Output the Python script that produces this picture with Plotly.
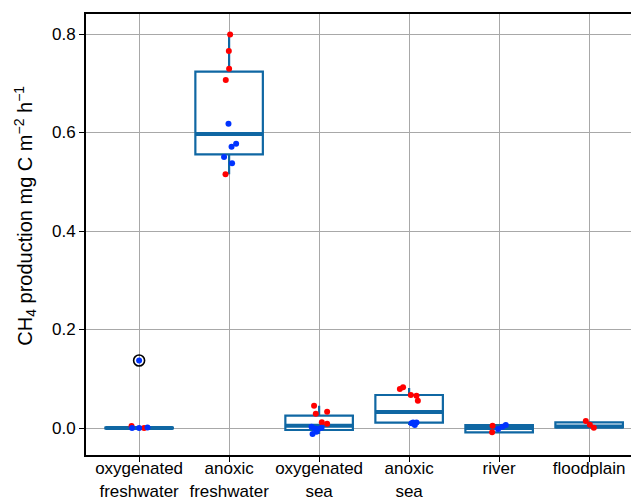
import plotly.graph_objects as go

categories = ["oxygenated<br>freshwater", "anoxic<br>freshwater", "oxygenated<br>sea",
              "anoxic<br>sea", "river", "floodplain"]

# box statistics per category
q1 = [-0.001, 0.5557, -0.004, 0.0108, -0.009, 0.0014]
median = [0.0, 0.597, 0.0047, 0.0325, 0.0, 0.003]
q3 = [0.001, 0.7235, 0.025, 0.067, 0.006, 0.0115]
lower = [-0.001, 0.515, -0.012, 0.006, -0.009, 0.0]
upper = [0.004, 0.799, 0.045, 0.081, 0.0075, 0.013]

# red points: category index, jitter offset, value
red_cat = [0, 0, 1, 1, 1, 1, 1, 2, 2, 2, 2, 2, 3, 3, 3, 3, 3, 4, 4, 5, 5, 5]
red_jit = [-0.084, 0.056, 0.011, -0.003, 0.0, -0.037, -0.04, -0.056, -0.037, 0.089, 0.03, 0.089,
           -0.103, -0.067, 0.019, 0.082, 0.097, -0.073, -0.078, -0.037, 0.008, 0.052]
red_val = [0.004, 0.0, 0.799, 0.7655, 0.7296, 0.7066, 0.5151, 0.0453, 0.029, 0.033, 0.0116, 0.0088,
           0.079, 0.0826, 0.067, 0.0656, 0.0555, 0.0047, -0.0088, 0.014, 0.0067, 0.0006]

# blue points
blue_cat = [0, 0, 0, 0, 1, 1, 1, 1, 1, 2, 2, 2, 2, 2, 2, 3, 3, 3, 3, 4, 4, 4]
blue_jit = [-0.078, 0.0, 0.093, 0.0, -0.007, 0.078, 0.027, -0.056, 0.033,
            -0.084, -0.048, -0.073, -0.011, 0.027, -0.03, 0.027, 0.082, 0.063, 0.044,
            -0.011, 0.037, 0.074]
blue_val = [0.0, 0.0, 0.001, 0.137, 0.6179, 0.5773, 0.5712, 0.5503, 0.5375,
            0.0027, -0.001, -0.012, -0.002, 0.0006, -0.0075, 0.0095, 0.011, 0.006, 0.011,
            -0.002, 0.0027, 0.006]

# outliers flagged by the box plot
outlier_cat = [0]
outlier_val = [0.137]

yticks = [0.0, 0.2, 0.4, 0.6, 0.8]
y_title = "CH<sub>4</sub> production mg C m<sup>\u22122</sup> h<sup>\u22121</sup>"

BOX_COLOR = "#0f67a3"
idx = list(range(len(categories)))

fig = go.Figure()
fig.add_trace(go.Box(
    x=idx, q1=q1, median=median, q3=q3, lowerfence=lower, upperfence=upper,
    width=0.75, whiskerwidth=0, fillcolor="white",
    line=dict(color=BOX_COLOR, width=2.2), boxpoints=False, showlegend=False,
    hoverinfo="skip"))
fig.add_trace(go.Box(
    x=idx, q1=median, median=median, q3=median, lowerfence=median, upperfence=median,
    width=0.75, whiskerwidth=0, fillcolor="rgba(0,0,0,0)",
    line=dict(color=BOX_COLOR, width=4), boxpoints=False, showlegend=False,
    hoverinfo="skip"))
fig.add_trace(go.Scatter(
    x=outlier_cat, y=outlier_val, mode="markers", showlegend=False,
    marker=dict(symbol="circle-open", size=11, color="black", line=dict(width=1.6))))
fig.add_trace(go.Scatter(
    x=[c + j for c, j in zip(red_cat, red_jit)], y=red_val, mode="markers",
    showlegend=False, marker=dict(color="#ff0000", size=6)))
fig.add_trace(go.Scatter(
    x=[c + j for c, j in zip(blue_cat, blue_jit)], y=blue_val, mode="markers",
    showlegend=False, marker=dict(color="#0033ff", size=6)))

fig.update_layout(
    width=631, height=491,
    margin=dict(l=78, r=0, t=6, b=44),
    paper_bgcolor="white", plot_bgcolor="white",
    boxmode="overlay",
    font=dict(family="Arial, Liberation Sans", size=17, color="black"),
    xaxis=dict(
        range=[-0.59, 5.554], tickvals=idx, ticktext=categories, automargin=False,
        showgrid=True, gridcolor="#a8a8a8", gridwidth=1, zeroline=False,
        showline=True, linecolor="black", linewidth=2, mirror=True,
        ticks="outside", ticklen=5, tickcolor="black", tickfont=dict(size=17),
        ticklabelstandoff=-8),
    yaxis=dict(
        range=[-0.0548, 0.8406], tickvals=yticks, ticktext=[f"{v:.1f}" for v in yticks],
        automargin=False,
        showgrid=True, gridcolor="#a8a8a8", gridwidth=1, zeroline=False,
        showline=True, linecolor="black", linewidth=2,
        ticks="outside", ticklen=5, tickcolor="black", tickfont=dict(size=17)),
    annotations=[dict(
        text=y_title, textangle=-90, xref="paper", yref="paper",
        x=-0.11, y=0.543, xanchor="center", yanchor="middle", showarrow=False,
        font=dict(size=20, color="black"))],
)

fig.write_html("out.html")
